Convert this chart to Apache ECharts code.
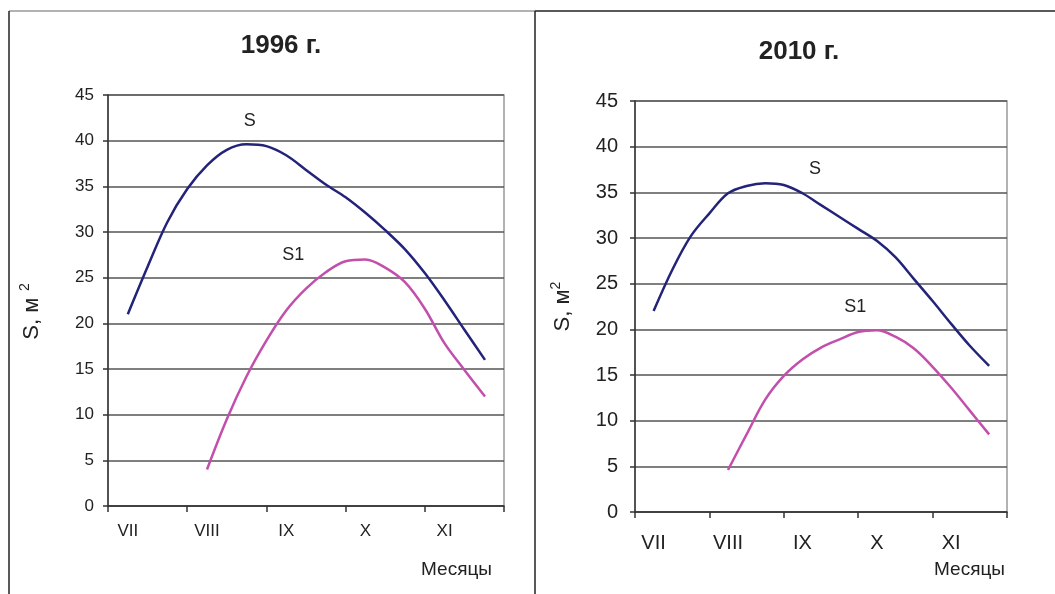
<!DOCTYPE html>
<html>
<head>
<meta charset="utf-8">
<script src="https://cdn.jsdelivr.net/npm/echarts@6/dist/echarts.min.js"></script>
<style>
  html, body { margin: 0; padding: 0; background: #fff; }
  #chart { width: 1055px; height: 594px; }
</style>
</head>
<body>
<div id="chart"></div>
<script>
const FONT = '"Liberation Sans", Arial, sans-serif';

// month labels and where they sit (in month units from the start of VII)
const months = ['VII', 'VIII', 'IX', 'X', 'XI'];
const monthLabelPos = [0.25, 1.25, 2.25, 3.25, 4.25];
const monthTicks = [0, 1, 2, 3, 4, 5];
const yTicksMax = 45;

// x positions of readings (months from start of July)
const xS = [0.25, 0.5, 0.75, 1, 1.25, 1.5, 1.75, 2, 2.25, 2.5, 2.75, 3, 3.25, 3.5, 3.75, 4, 4.25, 4.5, 4.76];
const xS1 = [1.25, 1.5, 1.75, 2, 2.25, 2.5, 2.75, 3, 3.25, 3.5, 3.75, 4, 4.25, 4.5, 4.76];

// 1996
const s1996 = [21.0, 26.2, 31.1, 34.7, 37.3, 39.0, 39.6, 39.4, 38.4, 36.8, 35.2, 33.8, 32.1, 30.2, 28.1, 25.5, 22.5, 19.3, 16.0];
const s1_1996 = [4.0, 9.5, 14.2, 18.1, 21.4, 23.8, 25.6, 26.8, 27.0, 26.1, 24.5, 21.6, 17.8, 14.9, 12.0];

// 2010
const s2010 = [22.0, 26.5, 30.2, 32.7, 34.9, 35.7, 36.0, 35.8, 34.9, 33.6, 32.3, 31.0, 29.7, 27.9, 25.5, 23.1, 20.6, 18.2, 16.0];
const s1_2010 = [4.6, 8.5, 12.3, 14.9, 16.7, 18.0, 18.9, 19.7, 19.9, 19.2, 17.9, 15.9, 13.6, 11.1, 8.5];

const pairs = (xs, ys) => xs.map((x, i) => [x, ys[i]]);

const chart = echarts.init(document.getElementById('chart'));

function xAxisFor(grid, labelSize, labelMargin, nameGap, namePadTop) {
  return {
    gridIndex: grid,
    type: 'value',
    min: 0,
    max: 5,
    interval: 1,
    axisLine: { show: true, lineStyle: { color: '#333', width: 1.5 } },
    axisTick: { show: true, customValues: monthTicks, length: 6, lineStyle: { color: '#333', width: 1.5 } },
    axisLabel: {
      customValues: monthLabelPos,
      formatter: v => months[Math.floor(v)],
      color: '#222',
      fontFamily: FONT,
      fontSize: labelSize,
      margin: labelMargin
    },
    splitLine: { show: false },
    name: 'Месяцы',
    nameLocation: 'end',
    nameGap: nameGap,
    nameTextStyle: {
      fontFamily: FONT, fontSize: 19, color: '#222',
      align: 'right', verticalAlign: 'top', padding: [namePadTop, 0, 0, 0]
    }
  };
}

function yAxisFor(grid, labelSize, labelMargin, nameGap) {
  return {
    gridIndex: grid,
    type: 'value',
    min: 0,
    max: yTicksMax,
    interval: 5,
    axisLine: { show: true, lineStyle: { color: '#333', width: 1.5 } },
    axisTick: { show: true, length: 5, lineStyle: { color: '#333', width: 1.5 } },
    axisLabel: { color: '#222', fontFamily: FONT, fontSize: labelSize, margin: labelMargin },
    splitLine: { show: true, lineStyle: { color: '#555', width: 1.5 } },
    name: grid === 0 ? '{a|S, м}  {b|2}' : '{a|S, м}{b|2}',
    nameLocation: 'middle',
    nameRotate: 90,
    nameGap: nameGap,
    nameTextStyle: {
      padding: grid === 0 ? [0, 22, 0, 0] : [0, 0, 0, 0],
      rich: {
        a: { fontFamily: FONT, fontSize: 22, color: '#222', lineHeight: 28 },
        b: { fontFamily: FONT, fontSize: 14, color: '#222', verticalAlign: 'top', lineHeight: 28, padding: [0, 0, 12, 0] }
      }
    }
  };
}

function curve(name, xs, ys, grid, color, tag, tagCoord) {
  return {
    name: name,
    type: 'line',
    xAxisIndex: grid,
    yAxisIndex: grid,
    data: pairs(xs, ys),
    smooth: 0.35,
    showSymbol: false,
    lineStyle: { color: color, width: 2.5 },
    itemStyle: { color: color },
    markPoint: {
      symbol: 'circle',
      symbolSize: 1,
      itemStyle: { color: 'rgba(0,0,0,0)' },
      label: { show: true, position: 'inside', formatter: tag, color: '#222', fontFamily: FONT, fontSize: 18 },
      data: [{ coord: tagCoord }]
    }
  };
}

const NAVY = '#23237a';
const MAGENTA = '#c24fac';

chart.setOption({
  backgroundColor: '#fff',
  animation: false,
  title: [
    { text: '1996 г.', left: 276, top: 28, textAlign: 'center',
      textStyle: { fontFamily: FONT, fontSize: 26, fontWeight: 'bold', color: '#222' } },
    { text: '2010 г.', left: 794, top: 34, textAlign: 'center',
      textStyle: { fontFamily: FONT, fontSize: 26, fontWeight: 'bold', color: '#222' } }
  ],
  grid: [
    { left: 108, top: 95, width: 396, height: 411, show: true, borderColor: '#999', borderWidth: 1.5 },
    { left: 635, top: 101, width: 372, height: 411, show: true, borderColor: '#999', borderWidth: 1.5 }
  ],
  xAxis: [xAxisFor(0, 17, 17, -12, 54), xAxisFor(1, 20, 21, -2, 48)],
  yAxis: [yAxisFor(0, 17, 14, 62), yAxisFor(1, 20, 17, 58)],
  series: [
    curve('S', xS, s1996, 0, NAVY, 'S', [1.79, 42.2]),
    curve('S1', xS1, s1_1996, 0, MAGENTA, 'S1', [2.34, 27.5]),
    curve('S', xS, s2010, 1, NAVY, 'S', [2.42, 37.6]),
    curve('S1', xS1, s1_2010, 1, MAGENTA, 'S1', [2.96, 22.4])
  ],
  graphic: [
    { type: 'line', shape: { x1: 9, y1: 11, x2: 535, y2: 11 }, style: { stroke: '#999', lineWidth: 1.5 } },
    { type: 'line', shape: { x1: 535, y1: 11, x2: 1055, y2: 11 }, style: { stroke: '#222', lineWidth: 1.5 } },
    { type: 'line', shape: { x1: 9, y1: 11, x2: 9, y2: 594 }, style: { stroke: '#222', lineWidth: 1.5 } },
    { type: 'line', shape: { x1: 535, y1: 11, x2: 535, y2: 594 }, style: { stroke: '#222', lineWidth: 1.5 } }
  ]
});
</script>
</body>
</html>
